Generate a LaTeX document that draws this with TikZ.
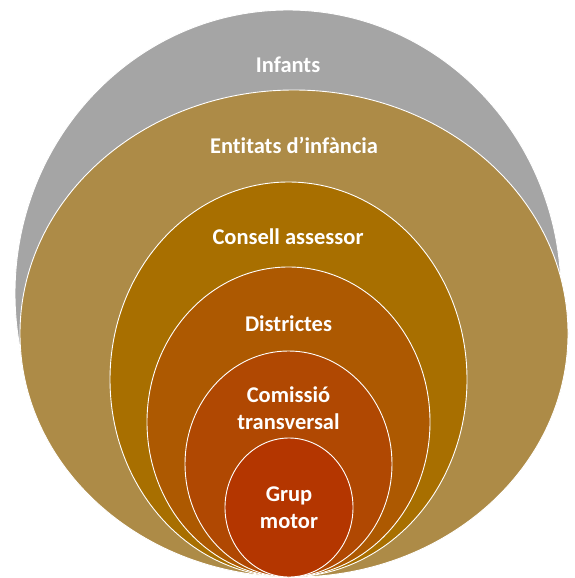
\documentclass[tikz,border=0pt]{standalone}
\usepackage{fontspec}
\setmainfont{Carlito}[Ligatures=NoCommon]
\usetikzlibrary{shapes.geometric}

\definecolor{grisC}{HTML}{A5A5A5}
\definecolor{ocreC}{HTML}{AD8B47}
\definecolor{orC}{HTML}{A86F00}
\definecolor{taronjaC}{HTML}{AD5901}
\definecolor{rovellC}{HTML}{B04802}
\definecolor{vermellC}{HTML}{B43600}

\begin{document}
\begin{tikzpicture}[x=1pt, y=-1pt,
	cercle/.style={ellipse, draw=white, line width=0.9pt, inner sep=0pt, outer sep=0pt},
	etiqueta/.style={text=white, font=\fontsize{22.5}{27}\selectfont\bfseries, align=center}]
			\useasboundingbox (0, 0) rectangle (574, 578);

			\node[cercle, fill=grisC, minimum width=546pt, minimum height=567pt] (A) at (288, 293.5) {};
			\node[cercle, fill=ocreC, minimum width=548pt, minimum height=487pt] (B) at (294, 333.5) {};
			\node[cercle, fill=orC, minimum width=357pt, minimum height=395pt] (C) at (288.5, 379.5) {};
			\node[cercle, fill=taronjaC, minimum width=283pt, minimum height=310pt] (D) at (288.5, 422) {};
			\node[cercle, fill=rovellC, minimum width=207pt, minimum height=226pt] (E) at (288.5, 464) {};
			\node[cercle, fill=vermellC, minimum width=128pt, minimum height=139pt] (F) at (289, 507.5) {};

			\node[etiqueta] (tA) at (288, 65) {Infants};
			\node[etiqueta] (tB) at (294, 145) {Entitats d’infància};
			\node[etiqueta] (tC) at (288, 237) {Consell assessor};
			\node[etiqueta] (tD) at (288.5, 324) {Districtes};
			\node[etiqueta] (tE) at (288.5, 408) {Comissió\\transversal};
			\node[etiqueta] (tF) at (289, 508) {Grup\\motor};
		\end{tikzpicture}
\end{document}
